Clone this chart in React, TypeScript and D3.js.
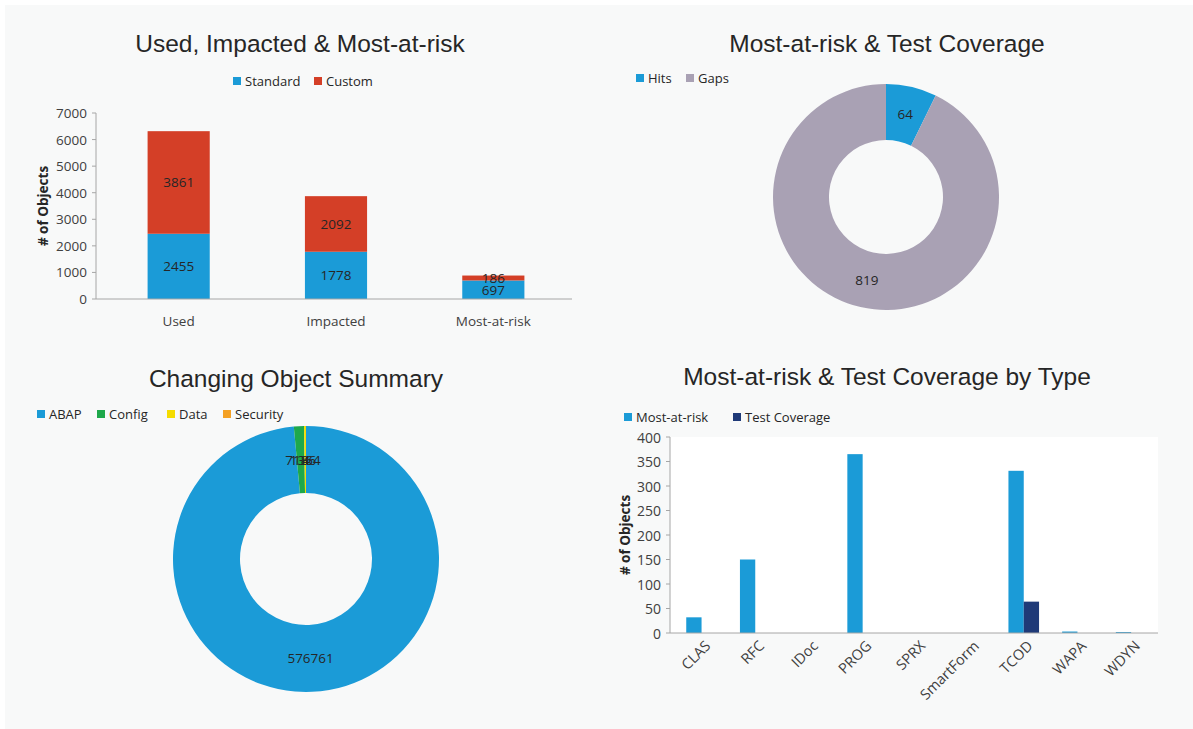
import React from "react";
import * as d3 from "d3";

// ---- Data ----
const usedCategories = ["Used", "Impacted", "Most-at-risk"];
const standardValues = [2455, 1778, 697];
const customValues = [3861, 2092, 186];
const usedTicks = [0, 1000, 2000, 3000, 4000, 5000, 6000, 7000];

const coverageLabels = ["Hits", "Gaps"];
const coverageValues = [64, 819];

const changeLabels = ["ABAP", "Config", "Data", "Security"];
const changeValues = [576761, 7186, 1364, 4];

const typeCategories = ["CLAS", "RFC", "IDoc", "PROG", "SPRX", "SmartForm", "TCOD", "WAPA", "WDYN"];
const typeSeries = ["Most-at-risk", "Test Coverage"];
const mostAtRiskByType = [32, 150, 0, 365, 0, 0, 331, 3, 2];
const testCoverageByType = [0, 0, 0, 0, 0, 0, 64, 0, 0];
const typeTicks = [0, 50, 100, 150, 200, 250, 300, 350, 400];

// ---- Style ----
const BLUE = "#1b9bd7";
const RED = "#d43f27";
const GRAYP = "#a9a1b4";
const GREEN = "#1ea84b";
const YELLOW = "#f5dc00";
const ORANGE = "#f4a124";
const NAVY = "#1f3a78";
const TEXT = "#262626";
const TICK = "#404040";
const AXIS = "#a6a6a6";
const FONT = "'Open Sans', sans-serif";
const TITLE_FONT = "'Liberation Sans', Arial, sans-serif";
const TITLE_SIZE = 24.5;

function LegendItem({ x, y, color, label }: { x: number; y: number; color: string; label: string }) {
  return (
    <g>
      <rect x={x} y={y - 4} width={8} height={8} fill={color} />
      <text x={x + 12} y={y} dominantBaseline="central" fontSize={13} fill={TEXT} fontFamily={FONT}>
        {label}
      </text>
    </g>
  );
}

function UsedChart() {
  const x = d3.scaleBand<string>().domain(usedCategories).range([100, 572]).paddingInner(0.605).paddingOuter(0.3025);
  const y = d3.scaleLinear().domain([0, 7000]).range([299, 113]);
  return (
    <g>
      <text x={300} y={43} textAnchor="middle" dominantBaseline="central" fontSize={TITLE_SIZE} fontFamily={TITLE_FONT} fill={TEXT}>
        Used, Impacted &amp; Most-at-risk
      </text>
      <LegendItem x={233} y={81} color={BLUE} label="Standard" />
      <LegendItem x={314} y={81} color={RED} label="Custom" />
      {usedTicks.map((t) => (
        <g key={t}>
          <line x1={92} x2={96} y1={y(t)} y2={y(t)} stroke={AXIS} />
          <text x={87} y={y(t)} textAnchor="end" dominantBaseline="central" fontSize={13.5} fontFamily={FONT} fill={TICK}>
            {t}
          </text>
        </g>
      ))}
      <line x1={96} x2={96} y1={y(7000)} y2={y(0)} stroke={AXIS} />
      <text
        transform={`translate(43,${(y(0) + y(7000)) / 2}) rotate(-90)`}
        textAnchor="middle"
        dominantBaseline="central"
        fontSize={13.5}
        fontWeight="bold"
        fontFamily={FONT}
        fill={TEXT}
      >
        # of Objects
      </text>
      {usedCategories.map((c, i) => {
        const bx = x(c)!;
        const w = x.bandwidth();
        const s = standardValues[i];
        const cu = customValues[i];
        return (
          <g key={c}>
            <rect x={bx} y={y(s)} width={w} height={y(0) - y(s)} fill={BLUE} />
            <rect x={bx} y={y(s + cu)} width={w} height={y(s) - y(s + cu)} fill={RED} />
            <text x={bx + w / 2} y={y(s / 2)} textAnchor="middle" dominantBaseline="central" fontSize={13.5} fontFamily={FONT} fill={TEXT}>
              {s}
            </text>
            <text x={bx + w / 2} y={y(s + cu / 2)} textAnchor="middle" dominantBaseline="central" fontSize={13.5} fontFamily={FONT} fill={TEXT}>
              {cu}
            </text>
            <text x={bx + w / 2} y={321} textAnchor="middle" dominantBaseline="central" fontSize={13.5} fontFamily={FONT} fill={TICK}>
              {c}
            </text>
          </g>
        );
      })}
      <line x1={96} x2={572} y1={y(0)} y2={y(0)} stroke={AXIS} />
    </g>
  );
}

function Donut({
  cx,
  cy,
  outer,
  inner,
  labels,
  values,
  colors,
}: {
  cx: number;
  cy: number;
  outer: number;
  inner: number;
  labels: string[];
  values: number[];
  colors: string[];
}) {
  const pie = d3.pie<number>().sort(null).value((d) => d)(values);
  const arc = d3.arc<d3.PieArcDatum<number>>().innerRadius(inner).outerRadius(outer);
  return (
    <g transform={`translate(${cx},${cy})`}>
      {pie.map((p, i) => (
        <path key={labels[i]} d={arc(p)!} fill={colors[i]} />
      ))}
      {pie.map((p, i) => {
        const [lx, ly] = arc.centroid(p);
        return (
          <text key={labels[i] + "l"} x={lx} y={ly} textAnchor="middle" dominantBaseline="central" fontSize={13.5} fontFamily={FONT} fill={TEXT}>
            {values[i]}
          </text>
        );
      })}
    </g>
  );
}

function CoverageChart() {
  const colors = [BLUE, GRAYP];
  return (
    <g>
      <text x={887} y={43} textAnchor="middle" dominantBaseline="central" fontSize={TITLE_SIZE} fontFamily={TITLE_FONT} fill={TEXT}>
        Most-at-risk &amp; Test Coverage
      </text>
      <LegendItem x={636} y={78} color={colors[0]} label={coverageLabels[0]} />
      <LegendItem x={686} y={78} color={colors[1]} label={coverageLabels[1]} />
      <Donut cx={886} cy={197} outer={113} inner={57} labels={coverageLabels} values={coverageValues} colors={colors} />
    </g>
  );
}

function ChangeChart() {
  const colors = [BLUE, GREEN, YELLOW, ORANGE];
  const legendX = [37, 97, 167, 223];
  return (
    <g>
      <text x={296} y={378} textAnchor="middle" dominantBaseline="central" fontSize={TITLE_SIZE} fontFamily={TITLE_FONT} fill={TEXT}>
        Changing Object Summary
      </text>
      {changeLabels.map((l, i) => (
        <LegendItem key={l} x={legendX[i]} y={414} color={colors[i]} label={l} />
      ))}
      <Donut cx={306} cy={559} outer={133} inner={66} labels={changeLabels} values={changeValues} colors={colors} />
    </g>
  );
}

function TypeChart() {
  const x0 = d3.scaleBand<string>().domain(typeCategories).range([674.7, 1158]).paddingInner(0.43).paddingOuter(0.215);
  const x1 = d3.scaleBand<string>().domain(typeSeries).range([0, x0.bandwidth()]);
  const y = d3.scaleLinear().domain([0, 400]).range([633, 437]);
  const seriesValues = [mostAtRiskByType, testCoverageByType];
  const colors = [BLUE, NAVY];
  return (
    <g>
      <text x={887} y={376} textAnchor="middle" dominantBaseline="central" fontSize={TITLE_SIZE} fontFamily={TITLE_FONT} fill={TEXT}>
        Most-at-risk &amp; Test Coverage by Type
      </text>
      <LegendItem x={624} y={417} color={colors[0]} label={typeSeries[0]} />
      <LegendItem x={733} y={417} color={colors[1]} label={typeSeries[1]} />
      <rect x={670} y={y(400)} width={1158 - 670} height={y(0) - y(400)} fill="#ffffff" />
      {typeTicks.map((t) => (
        <g key={t}>
          <line x1={666} x2={670} y1={y(t)} y2={y(t)} stroke={AXIS} />
          <text x={661} y={y(t)} textAnchor="end" dominantBaseline="central" fontSize={14} fontFamily={FONT} fill={TICK}>
            {t}
          </text>
        </g>
      ))}
      <line x1={670} x2={670} y1={y(400)} y2={y(0)} stroke={AXIS} />
      <text
        transform={`translate(625,${(y(0) + y(400)) / 2}) rotate(-90)`}
        textAnchor="middle"
        dominantBaseline="central"
        fontSize={13.5}
        fontWeight="bold"
        fontFamily={FONT}
        fill={TEXT}
      >
        # of Objects
      </text>
      {typeCategories.map((c, i) => (
        <g key={c}>
          {typeSeries.map((s, j) => {
            const v = seriesValues[j][i];
            if (v <= 0) return null;
            return <rect key={s} x={x0(c)! + x1(s)!} y={y(v)} width={x1.bandwidth()} height={y(0) - y(v)} fill={colors[j]} />;
          })}
          <text
            transform={`translate(${x0(c)! + x0.bandwidth() / 2 + 6},${643}) rotate(-45)`}
            textAnchor="end"
            dominantBaseline="central"
            fontSize={14.5}
            fontFamily={FONT}
            fill={TICK}
          >
            {c}
          </text>
        </g>
      ))}
      <line x1={670} x2={1158} y1={y(0)} y2={y(0)} stroke={AXIS} />
    </g>
  );
}

export default function App() {
  return (
    <svg width={1193} height={729} style={{ position: "absolute", left: 0, top: 0, display: "block" }}>
      <rect x={0} y={0} width={1193} height={729} fill="#ffffff" />
      <rect x={5} y={5} width={1188} height={724} fill="#f8f9f9" />
      <UsedChart />
      <CoverageChart />
      <ChangeChart />
      <TypeChart />
    </svg>
  );
}
